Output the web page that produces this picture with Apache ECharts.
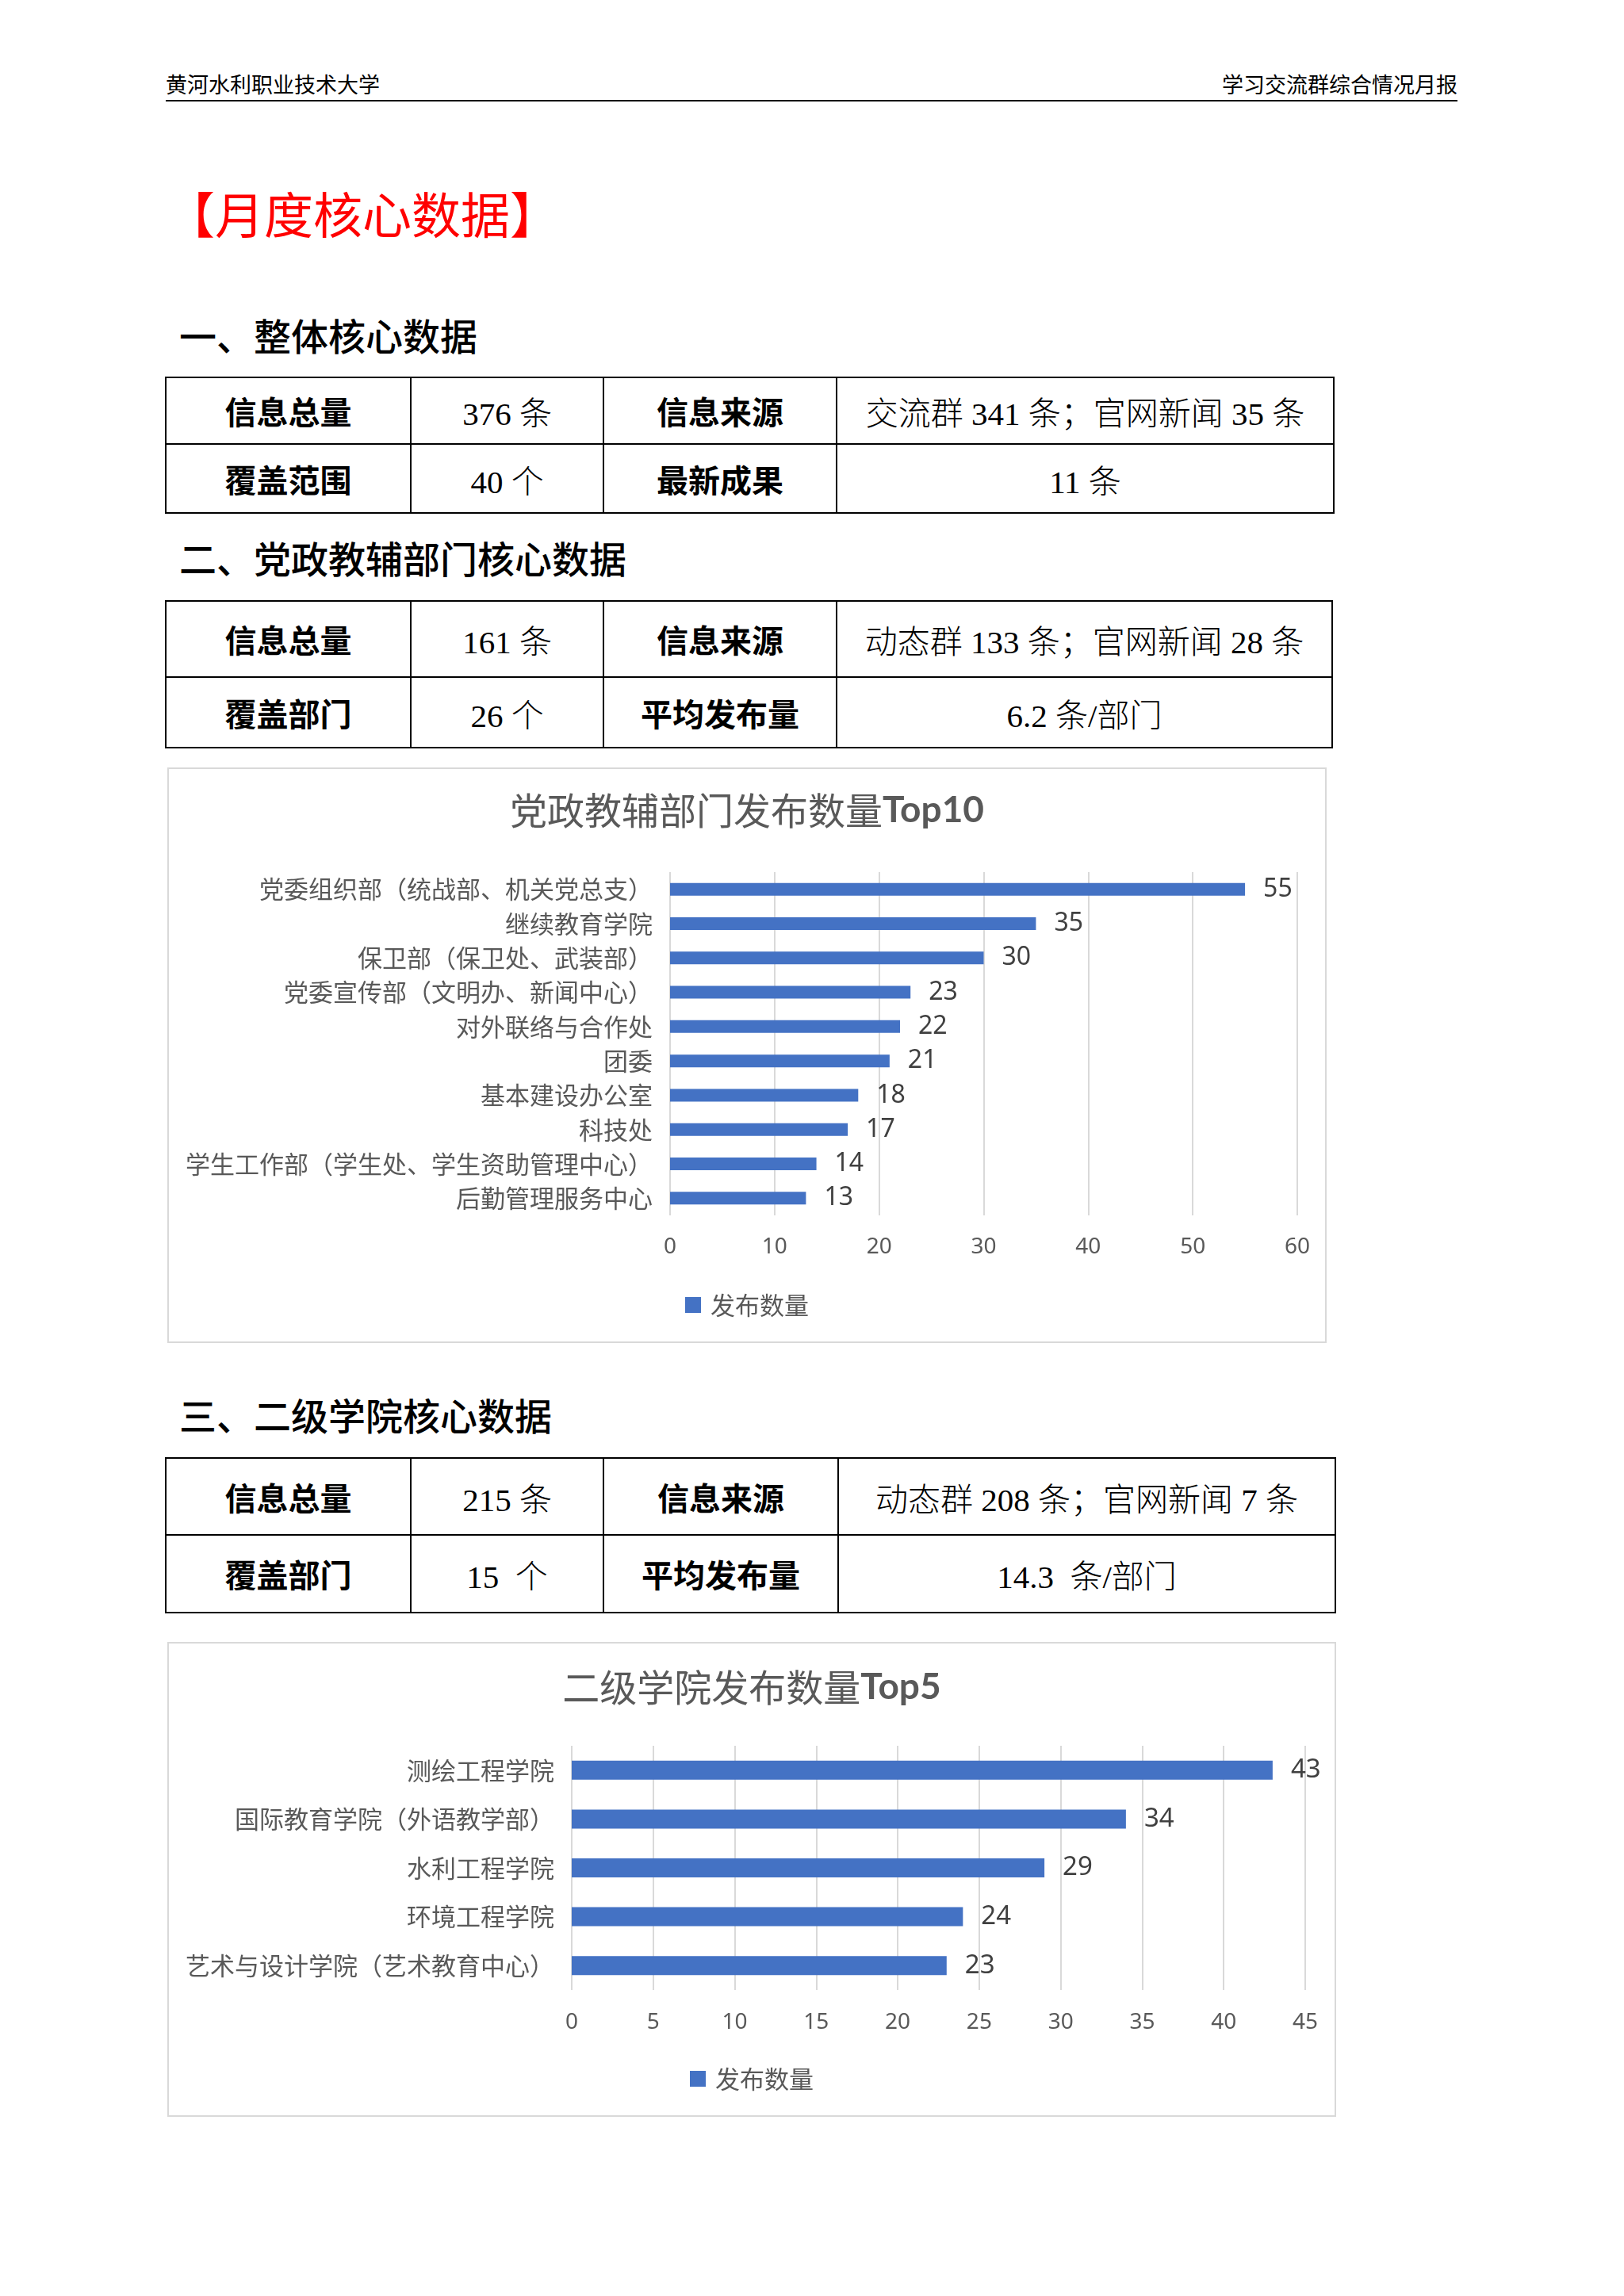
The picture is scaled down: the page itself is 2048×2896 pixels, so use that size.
<!DOCTYPE html>
<html>
<head>
<meta charset="utf-8">
<script src="https://cdn.jsdelivr.net/npm/echarts@6/dist/echarts.min.js"></script>
<style>
  html, body { margin: 0; padding: 0; background: #fff; }
  body { width: 2048px; height: 2896px; position: relative; font-family: "Noto Sans CJK SC", sans-serif; color: #000; }
  .abs { position: absolute; white-space: nowrap; }
  .head-text { font-size: 27px; line-height: 32px; top: 90px; }
  .head-line { left: 209px; top: 126px; width: 1629px; height: 2px; background: #000; }
  .main-title { left: 209px; top: 233px; font-size: 62px; line-height: 70px; color: #ff0000; }
  .section { left: 226px; font-size: 47px; line-height: 56px; font-weight: 500; }
  table.info { position: absolute; left: 208px; border-collapse: collapse; table-layout: fixed; }
  table.info td { border: 2px solid #000; text-align: center; vertical-align: middle; padding: 0; white-space: pre; font-size: 40px; }
  table.info td.key { font-weight: bold; font-family: "Noto Sans CJK SC", sans-serif; }
  table.info td.val { font-family: "Liberation Serif", "Noto Sans CJK SC", serif; font-weight: 300; font-size: 41px; }
  .chart { position: absolute; box-sizing: border-box; border: 2px solid #d9d9d9; }
</style>
</head>
<body>
<div class="abs head-text" style="left:209px">黄河水利职业技术大学</div>
<div class="abs head-text" style="right:210px">学习交流群综合情况月报</div>
<div class="abs head-line"></div>

<div class="abs main-title">【月度核心数据】</div>

<div class="abs section" style="top:394px">一、整体核心数据</div>
<div id="table1"></div>

<div class="abs section" style="top:675px">二、党政教辅部门核心数据</div>
<div id="table2"></div>
<div id="deptChart" class="chart" style="left:211px;top:968px;width:1462px;height:726px"></div>

<div class="abs section" style="top:1756px">三、二级学院核心数据</div>
<div id="table3"></div>
<div id="collegeChart" class="chart" style="left:211px;top:2071px;width:1474px;height:599px"></div>

<script>
  // 表格内容
  const overallRows = [
    ['信息总量', '376 条', '信息来源', '交流群 341 条；官网新闻 35 条'],
    ['覆盖范围', '40 个', '最新成果', '11 条'],
  ];
  const deptRows = [
    ['信息总量', '161 条', '信息来源', '动态群 133 条；官网新闻 28 条'],
    ['覆盖部门', '26 个', '平均发布量', '6.2 条/部门'],
  ];
  const collegeRows = [
    ['信息总量', '215 条', '信息来源', '动态群 208 条；官网新闻 7 条'],
    ['覆盖部门', '15  个', '平均发布量', '14.3  条/部门'],
  ];

  // 党政教辅部门 Top10
  const deptNames = [
    '党委组织部（统战部、机关党总支）',
    '继续教育学院',
    '保卫部（保卫处、武装部）',
    '党委宣传部（文明办、新闻中心）',
    '对外联络与合作处',
    '团委',
    '基本建设办公室',
    '科技处',
    '学生工作部（学生处、学生资助管理中心）',
    '后勤管理服务中心',
  ];
  const deptCounts = [55, 35, 30, 23, 22, 21, 18, 17, 14, 13];
  const deptAxis = [0, 60, 10];

  // 二级学院 Top5
  const collegeNames = [
    '测绘工程学院',
    '国际教育学院（外语教学部）',
    '水利工程学院',
    '环境工程学院',
    '艺术与设计学院（艺术教育中心）',
  ];
  const collegeCounts = [43, 34, 29, 24, 23];
  const collegeAxis = [0, 45, 5];

  const seriesName = '发布数量';

  function buildTable(id, rows, top, rowHeights, widths) {
    const cols = widths.map((w) => `<col style="width:${w}px">`).join('');
    const body = rows.map((row, i) => {
      const cells = row.map((text, j) => `<td class="${j % 2 === 0 ? 'key' : 'val'}">${text}</td>`).join('');
      return `<tr style="height:${rowHeights[i]}px">${cells}</tr>`;
    }).join('');
    const total = widths.reduce((a, b) => a + b, 0);
    document.getElementById(id).innerHTML =
      `<table class="info" style="top:${top}px;width:${total}px"><colgroup>${cols}</colgroup>${body}</table>`;
  }

  buildTable('table1', overallRows, 475, [84, 87], [309, 243, 294, 627]);
  buildTable('table2', deptRows, 757, [96, 89], [309, 243, 294, 625]);
  buildTable('table3', collegeRows, 1838, [97, 98], [309, 243, 296, 627]);

  function barOption(opts) {
    return {
      animation: false,
      title: {
        text: `{a|${opts.titleCn}}{b|${opts.titleEn}}`,
        left: 'center',
        top: opts.titleTop,
        padding: 0,
        textStyle: {
          fontWeight: 'normal',
          rich: {
            a: { fontSize: 47, lineHeight: 52, color: '#595959', fontWeight: 'normal', fontFamily: 'Noto Sans CJK SC' },
            b: { fontSize: 46, lineHeight: 52, color: '#595959', fontWeight: 'bold', fontFamily: 'Lato' },
          },
        },
      },
      legend: {
        data: [seriesName],
        left: 'center',
        top: opts.legendTop,
        padding: 0,
        icon: 'rect',
        itemWidth: 20,
        itemHeight: 20,
        itemGap: 10,
        textStyle: { fontSize: 31, lineHeight: 34, padding: [0, 0, 0, 7], color: '#595959', fontFamily: 'Noto Sans CJK SC' },
      },
      grid: opts.grid,
      xAxis: {
        type: 'value',
        min: opts.axis[0],
        max: opts.axis[1],
        interval: opts.axis[2],
        axisLine: { show: false },
        axisTick: { show: false },
        splitLine: { show: true, lineStyle: { color: '#d9d9d9', width: 2 } },
        axisLabel: { margin: opts.labelMargin, fontSize: 28, color: '#595959', fontFamily: 'Noto Sans' },
      },
      yAxis: {
        type: 'category',
        inverse: true,
        data: opts.names,
        axisLine: { show: false },
        axisTick: { show: false },
        axisLabel: { margin: 22, fontSize: 31, color: '#595959', fontFamily: 'Noto Sans CJK SC' },
      },
      series: [
        {
          name: seriesName,
          type: 'bar',
          data: opts.values,
          barWidth: opts.barWidth,
          itemStyle: { color: '#4472c4' },
          label: {
            show: true,
            position: 'right',
            distance: 23,
            fontSize: opts.valueSize,
            color: '#404040',
            fontFamily: 'Noto Sans',
          },
        },
      ],
    };
  }

  const deptChart = echarts.init(document.getElementById('deptChart'));
  deptChart.setOption(barOption({
    titleCn: '党政教辅部门发布数量',
    titleEn: 'Top10',
    titleTop: 26,
    legendTop: 659,
    grid: { left: 632, right: 35, top: 130, bottom: 159, containLabel: false },
    axis: deptAxis,
    labelMargin: 26,
    names: deptNames,
    values: deptCounts,
    barWidth: 16,
    valueSize: 32,
  }));

  const collegeChart = echarts.init(document.getElementById('collegeChart'));
  collegeChart.setOption(barOption({
    titleCn: '二级学院发布数量',
    titleEn: 'Top5',
    titleTop: 29,
    legendTop: 532,
    grid: { left: 508, right: 37, top: 129, bottom: 158, containLabel: false },
    axis: collegeAxis,
    labelMargin: 27,
    names: collegeNames,
    values: collegeCounts,
    barWidth: 24,
    valueSize: 33,
  }));
</script>
</body>
</html>
